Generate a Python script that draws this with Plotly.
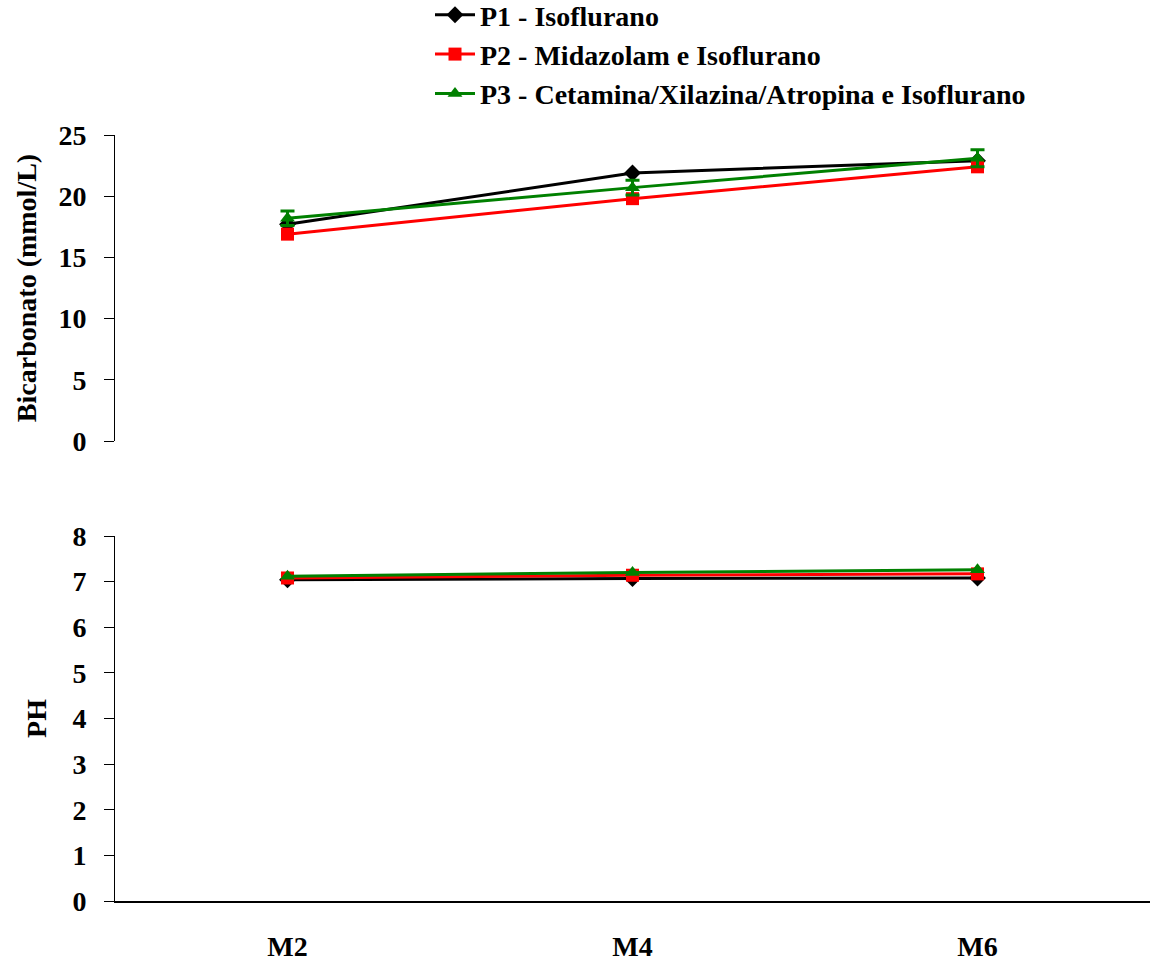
import plotly.graph_objects as go

categories = ["M2", "M4", "M6"]

# Bicarbonato (mmol/L)
bic_p1 = [17.7, 21.9, 22.9]
bic_p2 = [16.9, 19.8, 22.4]
bic_p3 = [18.2, 20.7, 23.1]
bic_p3_err = [0.6, 0.6, 0.7]

# PH
ph_p1 = [7.04, 7.07, 7.08]
ph_p2 = [7.08, 7.14, 7.17]
ph_p3 = [7.12, 7.20, 7.26]

names = ["P1 - Isoflurano", "P2 - Midazolam e Isoflurano",
         "P3 - Cetamina/Xilazina/Atropina e Isoflurano"]
colors = ["#000000", "#ff0000", "#008000"]
symbols = ["diamond", "square", "triangle-up"]

FONT = "Liberation Serif, Times New Roman, serif"

fig = go.Figure()

top_series = [bic_p1, bic_p2, bic_p3]
bot_series = [ph_p1, ph_p2, ph_p3]

for i in range(3):
    err = dict(type="data", array=bic_p3_err, visible=True, color=colors[i],
               thickness=3, width=7) if i == 2 else None
    fig.add_trace(go.Scatter(
        x=categories, y=top_series[i], name=names[i], mode="lines+markers",
        line=dict(color=colors[i], width=3),
        marker=dict(symbol=symbols[i], size=13, color=colors[i]),
        error_y=err, xaxis="x2", yaxis="y2", legendgroup=names[i],
    ))
for i in range(3):
    fig.add_trace(go.Scatter(
        x=categories, y=bot_series[i], name=names[i], mode="lines+markers",
        line=dict(color=colors[i], width=3),
        marker=dict(symbol=symbols[i], size=13, color=colors[i]),
        xaxis="x", yaxis="y", showlegend=False, legendgroup=names[i],
    ))

H_TOP, H_BOT = 135, 61
plot_h = 962 - H_TOP - H_BOT
top_dom0 = (901 - 441) / plot_h
bot_dom1 = (901 - 536) / plot_h

fig.update_layout(
    width=1150, height=962,
    margin=dict(l=115, r=0, t=H_TOP, b=H_BOT, autoexpand=False),
    plot_bgcolor="white", paper_bgcolor="white",
    font=dict(family=FONT, size=28, color="black", weight="bold"),
    showlegend=True,
    legend=dict(x=(430 - 115) / 1035, y=(901 + 10) / plot_h, xanchor="left", yanchor="top",
                font=dict(family=FONT, size=28, color="black", weight="bold"),
                bgcolor="rgba(0,0,0,0)", tracegroupgap=0, itemwidth=40,
                traceorder="normal"),
    xaxis=dict(domain=[0, 1], type="category", range=[-0.5, 2.5], automargin=False,
               showline=True, linecolor="black", linewidth=1.5,
               ticks="", showgrid=False, zeroline=False, anchor="y",
               tickfont=dict(size=28), ticklabelstandoff=20),
    yaxis=dict(domain=[0, bot_dom1], range=[0, 8], dtick=1, automargin=False,
               showline=True, linecolor="black", linewidth=1,
               ticks="outside", ticklen=10, tickcolor="black",
               showgrid=False, zeroline=False, anchor="x",
               title=dict(text="PH", standoff=17, font=dict(size=28)),
               tickfont=dict(size=28), ticklabelstandoff=12),
    xaxis2=dict(domain=[0, 1], type="category", range=[-0.5, 2.5], automargin=False,
                showline=False, showticklabels=False, ticks="",
                showgrid=False, zeroline=False, anchor="y2", matches="x"),
    yaxis2=dict(domain=[top_dom0, 1], range=[0, 25], dtick=5, automargin=False,
                showline=True, linecolor="black", linewidth=1,
                ticks="outside", ticklen=10, tickcolor="black",
                showgrid=False, zeroline=False, anchor="x2",
                title=dict(text="Bicarbonato (mmol/L)", standoff=13, font=dict(size=28)),
                tickfont=dict(size=28), ticklabelstandoff=12),
)

fig.write_html("out.html")
